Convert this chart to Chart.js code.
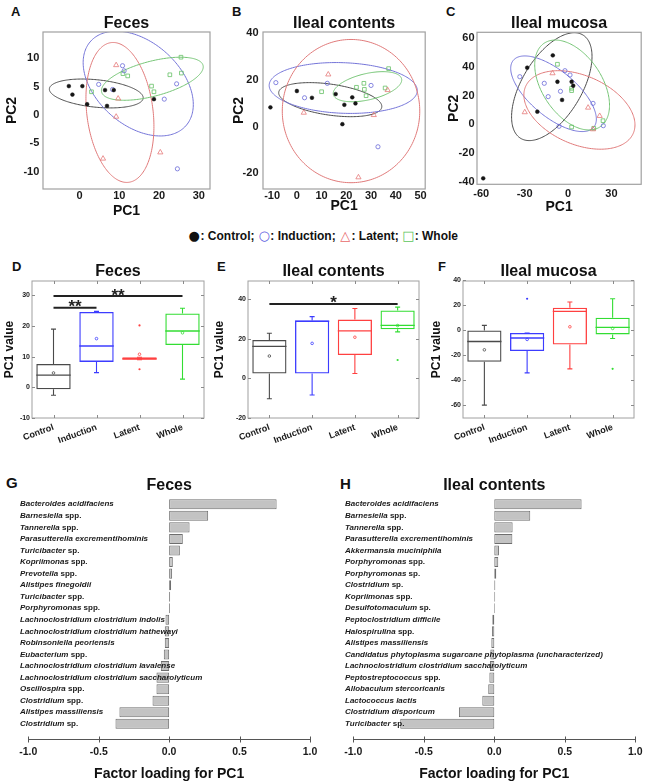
<!DOCTYPE html>
<html><head><meta charset="utf-8">
<script src="https://cdn.jsdelivr.net/npm/chart.js@4.4.1/dist/chart.umd.min.js"></script>
<style>
html,body{margin:0;padding:0;background:#fff;}
body{width:646px;height:784px;position:relative;overflow:hidden;font-family:"Liberation Sans",Arial,Helvetica,sans-serif;}
canvas{position:absolute;}
.lt{position:absolute;font-weight:bold;color:#111;line-height:1;}
#legend{position:absolute;left:188px;top:230px;font-weight:bold;font-size:12px;white-space:nowrap;color:#111;line-height:12px;}
#legend .sy{display:inline-block;width:12.5px;text-align:center;font-size:13px;font-family:"DejaVu Sans",sans-serif;font-weight:normal;}
</style></head><body>
<div class="lt" style="left:11px;top:5px;font-size:13px">A</div>
<div class="lt" style="left:232px;top:5px;font-size:13px">B</div>
<div class="lt" style="left:446px;top:5px;font-size:13px">C</div>
<div class="lt" style="left:12px;top:260px;font-size:13px">D</div>
<div class="lt" style="left:217px;top:260px;font-size:13px">E</div>
<div class="lt" style="left:438px;top:260px;font-size:13px">F</div>
<div class="lt" style="left:6px;top:475px;font-size:15px">G</div>
<div class="lt" style="left:340px;top:476px;font-size:15px">H</div>
<div id="legend"><span class="sy" style="color:#111">&#9679;</span>: Control; <span class="sy" style="color:#5a5ae0">&#9675;</span>: Induction; <span class="sy" style="color:#e86a6a">&#9651;</span>: Latent; <span class="sy" style="color:#5cc65c">&#9633;</span>: Whole</div>
<script>
// ---------- DATA ----------
const groups = ['Control', 'Induction', 'Latent', 'Whole'];

// A: Feces PCA scores [PC1, PC2]
const fecesControl   = [[-2.7,5.1],[-1.8,3.6],[0.7,5.1],[1.9,1.9],[6.4,4.4],[6.9,1.6],[8.6,4.4],[18.7,2.8]];
const fecesInduction = [[4.8,5.4],[8.3,4.5],[10.8,8.7],[11.2,7.8],[21.3,2.8],[24.4,5.5],[24.6,-9.5]];
const fecesLatent    = [[9.2,8.8],[9.7,2.9],[9.2,-0.3],[5.9,-7.7],[20.3,-6.6]];
const fecesWhole     = [[3.0,4.1],[10.9,7.3],[12.1,6.9],[18.1,5.1],[18.7,4.1],[22.7,7.1],[25.6,7.4],[25.5,10.2]];
// confidence ellipses per group: [centre PC1, centre PC2, half-width, half-height, correlation]
const fecesEllipses  = [[4.2,3.8,11.8,2.55,-0.3],[14.75,5.55,13.85,9.25,-0.4],[10.15,0.45,8.55,12.35,-0.2],[18.3,6.4,12.8,3.8,0.55]];

// B: Ileal contents PCA scores
const contentsControl   = [[-10.7,8.3],[0,15.3],[6.1,12.4],[15.7,14],[19.2,9.4],[22.4,12.6],[23.7,10],[18.4,1.1]];
const contentsInduction = [[-8.5,18.9],[3.1,12.4],[12.3,18.6],[30,17.7],[32.8,-8.6]];
const contentsLatent    = [[12.7,22.4],[36.7,15.7],[31.1,5],[24.9,-21.7],[2.8,6]];
const contentsWhole     = [[10,15],[24.1,16.9],[27.1,18.6],[27.3,16],[28,13.3],[35.7,16.6],[37.1,24.9]];
const contentsEllipses  = [[13.5,11.6,20.85,7.3,-0.4],[18.75,16.6,29.95,10.9,-0.1],[21.9,6.7,27.8,30.7,0],[28.55,17.15,13.85,6.45,0.45]];

// C: Ileal mucosa PCA scores
const mucosaControl   = [[-58.6,-37.7],[-28.2,39.5],[-21.2,8.8],[-10.5,48.1],[-7.3,29.7],[-4.1,17],[2.5,29.7],[3.6,26.9]];
const mucosaInduction = [[-33.3,33.2],[-16.4,28.6],[-13.7,19.3],[-5.2,23],[-2.1,37.4],[1.4,34.4],[17.3,14.6],[24.4,-1],[-6.2,-1.4]];
const mucosaLatent    = [[-29.9,8.4],[-10.7,35.6],[13.9,11.6],[21.9,5.8],[17.3,-3.5]];
const mucosaWhole     = [[-7.3,41.9],[2.5,25.1],[2.5,23.5],[2.5,-1.9],[24.2,2.5],[17.8,-2.8]];
const mucosaEllipses  = [[-11.2,26.25,27.8,37.65,0.56],[-10,21.3,29.6,26.4,-0.67],[7.9,10,38.4,27.4,-0.38],[2.85,27.4,25.85,31.4,-0.45]];

// D-F: PC1 box plots, rows per group: [min, q1, median, q3, max, mean]
const boxFeces    = [[-2.6,-0.65,4.0,7.6,19.0,4.7],[4.8,8.3,13.5,24.6,24.8,15.9],[9.0,9.0,9.3,9.8,9.8,10.8],[2.7,13.8,18.4,24.1,25.8,17.8]];
const boxContents = [[-10.3,2.5,16.2,19.4,22.8,11.3],[-8.4,2.5,28.9,29.2,31.2,17.7],[2.5,11.8,24.0,29.7,35.3,20.8],[23.5,24.8,26.8,34.3,36.0,26.7]];
const boxMucosa   = [[-59.7,-25,-8.8,0,4,-15.5],[-33.9,-16.5,-6.1,-2.1,-2.1,-7.2],[-30.7,-11.2,15.2,18.1,22.7,2.9],[-6.4,-3.2,2.4,10.1,25.3,1.6]];
const outFeces    = [['Latent',20.2],['Latent',5.9]];
const outContents = [['Whole',9.3]];
const outMucosa   = [['Induction',25.3],['Whole',-30.7]];
// significance brackets: [from group, to group, PC1 level, label]
const sigFeces    = [['Control','Induction',26,'**'],['Control','Whole',29.8,'**']];
const sigContents = [['Control','Whole',37.6,'*']];

// G-H: factor loadings for PC1
const fecesTaxa = ['Bacteroides acidifaciens','Barnesiella spp.','Tannerella spp.','Parasutterella excrementihominis','Turicibacter sp.','Kopriimonas spp.','Prevotella spp.','Alistipes finegoldii','Turicibacter spp.','Porphyromonas spp.','Lachnoclostridium clostridium indolis','Lachnoclostridium clostridium hathewayi','Robinsoniella peoriensis','Eubacterium spp.','Lachnoclostridium clostridium lavalense','Lachnoclostridium clostridium saccharolyticum','Oscillospira spp.','Clostridium spp.','Alistipes massiliensis','Clostridium sp.'];
const fecesLoadings = [0.763,0.277,0.145,0.097,0.076,0.026,0.021,0.014,0.007,0.006,-0.026,-0.031,-0.031,-0.038,-0.059,-0.09,-0.09,-0.118,-0.353,-0.381];
const contentsTaxa = ['Bacteroides acidifaciens','Barnesiella spp.','Tannerella spp.','Parasutterella excrementihominis','Akkermansia muciniphila','Porphyromonas spp.','Porphyromonas sp.','Clostridium sp.','Kopriimonas spp.','Desulfotomaculum sp.','Peptoclostridium difficile','Halospirulina spp.','Alistipes massiliensis','Candidatus phytoplasma sugarcane phytoplasma (uncharacterized)','Lachnoclostridium clostridium saccharolyticum','Peptostreptococcus spp.','Allobaculum stercoricanis','Lactococcus lactis','Clostridium disporicum','Turicibacter sp.'];
const contentsLoadings = [0.619,0.255,0.130,0.128,0.033,0.028,0.014,0.007,0.006,0.005,-0.014,-0.017,-0.021,-0.028,-0.031,-0.035,-0.043,-0.085,-0.251,-0.667];

// tick labels
const fecesXTicks = [0,10,20,30], fecesYTicks = [-10,-5,0,5,10];
const contentsXTicks = [-10,0,10,20,30,40,50], contentsYTicks = [-20,0,20,40];
const mucosaXTicks = [-60,-30,0,30], mucosaYTicks = [-40,-20,0,20,40,60];
const boxFecesTicks = [-10,0,10,20,30], boxContentsTicks = [-20,0,20,40], boxMucosaTicks = [-60,-40,-20,0,20,40];
const loadingTicks = [-1,-0.5,0,0.5,1];

// ---------- HELPERS ----------
Chart.defaults.font.family = '"Liberation Sans", Arial, Helvetica, sans-serif';
Chart.defaults.color = '#1a1a1a';
Chart.defaults.animation = false;

function makeCanvas(g){
  const c = document.createElement('canvas');
  c.width = g.w; c.height = g.h;
  c.style.left = g.l+'px'; c.style.top = g.t+'px';
  c.style.width = g.w+'px'; c.style.height = g.h+'px';
  document.body.appendChild(c);
  return c;
}
function titleCfg(g, text, fs){
  const pt = g.tcy - g.t - fs/2;
  const pb = (g.at - g.t) - fs - pt;
  return {display:true, text, fullSize:false, color:'#111', font:{size:fs, weight:'bold', lineHeight:1}, padding:{top:pt, bottom:pb}};
}
function setTicks(arr){ return s => { s.ticks = arr.map(v => ({value:v})); }; }
function fitX(g){ return s => { s.height = g.t + g.h - g.ab; s.paddingLeft = 0; s.paddingRight = 0; }; }
function fitY(g){ return s => { s.width = g.al - g.l; s.paddingTop = 0; s.paddingBottom = 0; }; }
function framePlugin(color, lw){
  return {id:'frame', afterDatasetsDraw(chart){
    const a = chart.chartArea, c = chart.ctx;
    c.save(); c.strokeStyle = color; c.lineWidth = lw;
    c.strokeRect(a.left, a.top, a.right - a.left, a.bottom - a.top); c.restore();
  }};
}

// ---------- SCATTER (A-C) ----------
const grpStyle = [
  {pointStyle:'circle', pointRadius:1.9, pointBackgroundColor:'#151515', pointBorderColor:'#151515', pointBorderWidth:0.5},
  {pointStyle:'circle', pointRadius:2.1, pointBackgroundColor:'rgba(0,0,0,0)', pointBorderColor:'#6a6ad8', pointBorderWidth:0.8},
  {pointStyle:'triangle', pointRadius:3.0, pointBackgroundColor:'rgba(0,0,0,0)', pointBorderColor:'#e67a7a', pointBorderWidth:0.8},
  {pointStyle:'rect', pointRadius:2.6, pointBackgroundColor:'rgba(0,0,0,0)', pointBorderColor:'#66c066', pointBorderWidth:0.8}
];
const ellColors = ['#4a4a4a','#7474d8','#e07a7a','#74c474'];

function ellipsePlugin(ells){
  return {id:'ellipses', beforeDatasetsDraw(chart){
    const {ctx, chartArea:a, scales:{x, y}} = chart;
    ctx.save(); ctx.beginPath(); ctx.rect(a.left, a.top, a.right-a.left, a.bottom-a.top); ctx.clip();
    ells.forEach((e, k) => {
      const [cx, cy, W, H, r] = e; const s = Math.sqrt(1 - r*r);
      ctx.beginPath();
      for (let i = 0; i <= 200; i++){
        const t = i / 200 * 2 * Math.PI;
        const px = x.getPixelForValue(cx + W*Math.cos(t));
        const py = y.getPixelForValue(cy + H*(r*Math.cos(t) + s*Math.sin(t)));
        if (i) ctx.lineTo(px, py); else ctx.moveTo(px, py);
      }
      ctx.closePath(); ctx.strokeStyle = ellColors[k]; ctx.lineWidth = 1; ctx.stroke();
    });
    ctx.restore();
  }};
}

function scatterPanel(g, title, sets, ells, xr, yr, xt, yt){
  const cv = makeCanvas(g);
  new Chart(cv, {
    type:'scatter',
    data:{datasets: sets.map((pts, k) => Object.assign({label:groups[k], data: pts.map(p => ({x:p[0], y:p[1]}))}, grpStyle[k]))},
    options:{
      responsive:false, animation:false,
      layout:{padding:{left:0, top:0, right:g.l + g.w - g.ar, bottom:0}},
      plugins:{legend:{display:false}, tooltip:{enabled:false}, title:titleCfg(g, title, 16)},
      scales:{
        x:{type:'linear', min:xr[0], max:xr[1], afterBuildTicks:setTicks(xt), afterFit:fitX(g),
           grid:{display:false, drawTicks:false}, border:{display:false},
           ticks:{font:{size:11, weight:'bold'}, color:'#1a1a1a', padding:g.xpad, maxRotation:0},
           title:{display:true, text:'PC1', font:{size:14, weight:'bold', lineHeight:1.2}, color:'#111', padding:{top:0, bottom:g.xtp}}},
        y:{type:'linear', min:yr[0], max:yr[1], afterBuildTicks:setTicks(yt), afterFit:fitY(g),
           grid:{display:false, drawTicks:false}, border:{display:false},
           ticks:{font:{size:11, weight:'bold'}, color:'#1a1a1a', padding:g.ypad},
           title:{display:true, text:'PC2', font:{size:14, weight:'bold', lineHeight:1.2}, color:'#111', padding:{top:g.ytp, bottom:0}}}
      }
    },
    plugins:[ellipsePlugin(ells), framePlugin('#a0a0a0', 1.2)]
  });
}

scatterPanel({l:0,t:0,w:215,h:225,al:43,at:32,ar:210,ab:189,tcy:23.3,xpad:0.5,ypad:3.7,xtp:5.6,ytp:3.3},
  'Feces', [fecesControl, fecesInduction, fecesLatent, fecesWhole], fecesEllipses, [-9.2,32.8], [-13.06,14.65], fecesXTicks, fecesYTicks);
scatterPanel({l:225,t:0,w:205,h:225,al:263,at:32,ar:427,ab:189,tcy:23.3,xpad:0,ypad:4.5,xtp:10.6,ytp:5.3},
  'Ileal contents', [contentsControl, contentsInduction, contentsLatent, contentsWhole], contentsEllipses, [-13.7,51.9], [-26.7,40.6], contentsXTicks, contentsYTicks);
scatterPanel({l:440,t:0,w:206,h:225,al:477,at:32.3,ar:643,ab:184.3,tcy:23.3,xpad:2.6,ypad:2.5,xtp:9.9,ytp:5.3},
  'Ileal mucosa', [mucosaControl, mucosaInduction, mucosaLatent, mucosaWhole], mucosaEllipses, [-62.9,50.6], [-41.9,64.2], mucosaXTicks, mucosaYTicks);

// ---------- BOX PLOTS (D-F) ----------
const boxColors = ['#4a4a4a','#3c3cff','#ff4040','#33dd33'];

function boxPlugin(rows, sig){
  return {id:'boxparts', afterDatasetsDraw(chart){
    const {ctx, scales:{x, y}, chartArea:a} = chart;
    const meta = chart.getDatasetMeta(0);
    ctx.save();
    rows.forEach((r, i) => {
      const cx = x.getPixelForValue(i);
      const bw = meta.data[i].width;
      ctx.strokeStyle = boxColors[i]; ctx.lineWidth = 1.1;
      ctx.beginPath();
      ctx.moveTo(cx, y.getPixelForValue(r[4])); ctx.lineTo(cx, y.getPixelForValue(r[3]));
      ctx.moveTo(cx, y.getPixelForValue(r[1])); ctx.lineTo(cx, y.getPixelForValue(r[0]));
      ctx.moveTo(cx-2.5, y.getPixelForValue(r[4])); ctx.lineTo(cx+2.5, y.getPixelForValue(r[4]));
      ctx.moveTo(cx-2.5, y.getPixelForValue(r[0])); ctx.lineTo(cx+2.5, y.getPixelForValue(r[0]));
      ctx.stroke();
      ctx.lineWidth = 1.4; ctx.beginPath();
      ctx.moveTo(cx - bw/2, y.getPixelForValue(r[2])); ctx.lineTo(cx + bw/2, y.getPixelForValue(r[2]));
      ctx.stroke();
    });
    // inward tick marks on frame
    ctx.strokeStyle = '#8a8a8a'; ctx.lineWidth = 1; ctx.beginPath();
    for (let i = 0; i < groups.length; i++){
      const px = Math.round(x.getPixelForValue(i)) + 0.5;
      ctx.moveTo(px, a.bottom); ctx.lineTo(px, a.bottom - 3);
      ctx.moveTo(px, a.top); ctx.lineTo(px, a.top + 3);
    }
    y.ticks.forEach(t => {
      const py = Math.round(y.getPixelForValue(t.value)) + 0.5;
      ctx.moveTo(a.left, py); ctx.lineTo(a.left + 3, py);
      ctx.moveTo(a.right, py); ctx.lineTo(a.right - 3, py);
    });
    ctx.stroke();
    // significance brackets
    (sig || []).forEach(s => {
      const x1 = x.getPixelForValue(groups.indexOf(s[0])), x2 = x.getPixelForValue(groups.indexOf(s[1]));
      const py = y.getPixelForValue(s[2]);
      ctx.strokeStyle = '#222'; ctx.lineWidth = 2;
      ctx.beginPath(); ctx.moveTo(x1, py); ctx.lineTo(x2, py); ctx.stroke();
      ctx.fillStyle = '#222'; ctx.font = 'bold 17px "Liberation Sans", Arial, sans-serif';
      ctx.textAlign = 'center'; ctx.textBaseline = 'alphabetic';
      ctx.fillText(s[3], (x1 + x2)/2, py + 4.5);
    });
    ctx.restore();
  }};
}

function boxPanel(g, title, rows, outs, sig, yr, yt){
  const cv = makeCanvas(g);
  new Chart(cv, {
    type:'bar',
    data:{labels: groups, datasets:[
      {type:'bar', data: rows.map(r => [r[1], r[3]]), backgroundColor:'rgba(0,0,0,0)', borderColor: boxColors,
       borderWidth:1.3, borderSkipped:false, barPercentage:0.8, categoryPercentage:1},
      {type:'line', data: rows.map(r => r[5]), showLine:false, pointRadius:1.3, pointBackgroundColor:'rgba(0,0,0,0)',
       pointBorderColor: boxColors, pointBorderWidth:0.8},
      {type:'line', data: outs.map(o => ({x:o[0], y:o[1]})), showLine:false, pointRadius:1.1,
       pointBackgroundColor: outs.map(o => boxColors[groups.indexOf(o[0])]), pointBorderWidth:0}
    ]},
    options:{
      responsive:false, animation:false,
      layout:{padding:{left:0, top:0, right:g.l + g.w - g.ar, bottom:0}},
      plugins:{legend:{display:false}, tooltip:{enabled:false}, title:titleCfg(g, title, 16)},
      scales:{
        x:{type:'category', offset:true, afterFit:fitX(g), grid:{display:false, drawTicks:false}, border:{display:false},
           ticks:{font:{size:9, weight:'bold'}, color:'#1a1a1a', minRotation:20, maxRotation:20, padding:g.xpad}},
        y:{type:'linear', min:yr[0], max:yr[1], afterBuildTicks:setTicks(yt), afterFit:fitY(g),
           grid:{display:false, drawTicks:false}, border:{display:false},
           ticks:{font:{size:7, weight:'bold'}, color:'#1a1a1a', padding:2},
           title:{display:true, text:'PC1 value', font:{size:12, weight:'bold', lineHeight:1.2}, color:'#111', padding:{top:g.ytp, bottom:0}}}
      }
    },
    plugins:[framePlugin('#a0a0a0', 1), boxPlugin(rows, sig)]
  });
}

boxPanel({l:0,t:245,w:210,h:210,al:32,at:281,ar:204,ab:418,tcy:271.7,xpad:4,ytp:2.8},
  'Feces', boxFeces, outFeces, sigFeces, [-10,34.7], boxFecesTicks);
boxPanel({l:210,t:245,w:215,h:210,al:248,at:281,ar:419,ab:418,tcy:271.7,xpad:4,ytp:2.8},
  'Ileal contents', boxContents, outContents, sigContents, [-20,49.2], boxContentsTicks);
boxPanel({l:425,t:245,w:221,h:210,al:463,at:281,ar:634,ab:418,tcy:271.7,xpad:4,ytp:4.8},
  'Ileal mucosa', boxMucosa, outMucosa, [], [-70,39.5], boxMucosaTicks);

// ---------- LOADINGS (G-H) ----------
function taxaLabelPlugin(labelX){
  return {id:'taxa', afterDatasetsDraw(chart){
    const {ctx, scales:{y}} = chart;
    const labels = chart.data.labels;
    ctx.save(); ctx.fillStyle = '#1a1a1a'; ctx.textBaseline = 'middle'; ctx.textAlign = 'left';
    labels.forEach((lab, i) => {
      const py = y.getPixelForValue(i);
      const m = lab.match(/^(.*?)(\s+spp?\.)$/);
      const ital = m ? m[1] : lab, up = m ? m[2] : '';
      ctx.font = 'italic bold 8px "Liberation Sans", Arial, sans-serif';
      ctx.fillText(ital, labelX, py);
      if (up){
        const w = ctx.measureText(ital).width;
        ctx.font = 'bold 8px "Liberation Sans", Arial, sans-serif';
        ctx.fillText(up, labelX + w, py);
      }
    });
    ctx.restore();
  }};
}
function loadingAxisPlugin(){
  return {id:'laxis', afterDraw(chart){
    const {ctx, scales:{x}, chartArea:a} = chart;
    const yl = Math.round(a.bottom + 9.5) + 0.5;
    ctx.save(); ctx.strokeStyle = '#555'; ctx.lineWidth = 1; ctx.beginPath();
    ctx.moveTo(x.getPixelForValue(-1), yl); ctx.lineTo(x.getPixelForValue(1), yl);
    x.ticks.forEach(t => { const px = Math.round(x.getPixelForValue(t.value)) + 0.5; ctx.moveTo(px, yl - 3); ctx.lineTo(px, yl + 3); });
    ctx.stroke(); ctx.restore();
  }};
}
function loadingPanel(g, title, taxa, vals){
  const cv = makeCanvas(g);
  new Chart(cv, {
    type:'bar',
    data:{labels: taxa, datasets:[{data: vals, backgroundColor:'#c3c3c3', borderColor:'#6e6e6e', borderWidth:1,
      borderSkipped:false, barPercentage:0.87, categoryPercentage:1}]},
    options:{
      indexAxis:'y', responsive:false, animation:false,
      layout:{padding:{left:g.al - g.l, top:0, right:g.l + g.w - g.ar, bottom:0}},
      plugins:{legend:{display:false}, tooltip:{enabled:false}, title:titleCfg(g, title, 16)},
      scales:{
        x:{type:'linear', min:-1, max:1, afterBuildTicks:setTicks(loadingTicks), afterFit:fitX(g),
           grid:{display:false, drawTicks:false}, border:{display:false},
           ticks:{font:{size:10.5, weight:'bold'}, color:'#1a1a1a', padding:16, maxRotation:0, callback:v => v.toFixed(1)},
           title:{display:true, text:'Factor loading for PC1', font:{size:14, weight:'bold', lineHeight:1.2}, color:'#111', padding:{top:0, bottom:1.6}}},
        y:{type:'category', display:false, offset:true}
      }
    },
    plugins:[taxaLabelPlugin(g.lx - g.l), loadingAxisPlugin()]
  });
}
loadingPanel({l:0,t:470,w:323,h:314,al:28.3,at:498.5,ar:310,ab:729.6,tcy:486,lx:20}, 'Feces', fecesTaxa, fecesLoadings);
loadingPanel({l:323,t:470,w:323,h:314,al:353.3,at:498.5,ar:635.3,ab:729.6,tcy:486,lx:345}, 'Ileal contents', contentsTaxa, contentsLoadings);
</script>
</body></html>
